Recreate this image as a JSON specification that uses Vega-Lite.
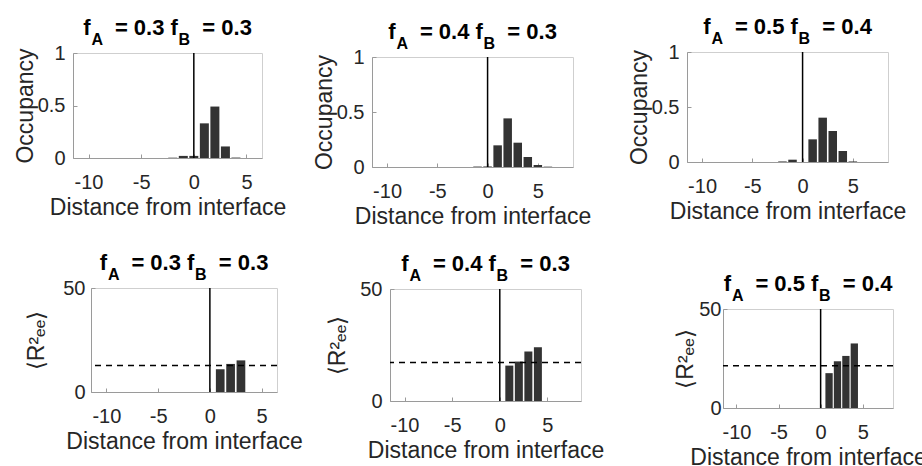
{
  "$schema": "https://vega.github.io/schema/vega-lite/v6.json",
  "padding": {"left": 12, "top": 13, "right": 0, "bottom": 0},
  "background": "white",
  "config": {
    "font": "Liberation Sans",
    "view": {"stroke": "#cfcfcf", "strokeWidth": 1},
    "axis": {
      "grid": false,
      "labelFont": "Liberation Sans",
      "titleFont": "Liberation Sans",
      "labelFontSize": 20,
      "titleFontSize": 23,
      "titleFontWeight": "normal",
      "labelColor": "#262626",
      "titleColor": "#262626",
      "domainColor": "#9a9a9a",
      "tickColor": "#9a9a9a",
      "tickSize": -4,
      "labelExpr": "datum.value + ''"
    },
    "axisX": {"labelPadding": 18, "titlePadding": 4},
    "title": {
      "font": "Liberation Sans",
      "fontSize": 22,
      "fontWeight": "bold",
      "color": "#000000",
      "subtitleFont": "Liberation Sans",
      "subtitleFontSize": 16,
      "subtitleFontWeight": "bold",
      "subtitleColor": "#000000",
      "subtitlePadding": -8,
      "frame": "group",
      "anchor": "middle",
      "offset": -6
    }
  },
  "datasets": {
    "occ1": [
      {"distance": -2, "occupancy": 0.003},
      {"distance": -1, "occupancy": 0.02},
      {"distance": 0, "occupancy": 0.02},
      {"distance": 1, "occupancy": 0.33},
      {"distance": 2, "occupancy": 0.49},
      {"distance": 3, "occupancy": 0.11},
      {"distance": 4, "occupancy": 0.004}
    ],
    "occ2": [
      {"distance": -1, "occupancy": 0.004},
      {"distance": 0, "occupancy": 0.005},
      {"distance": 1, "occupancy": 0.197},
      {"distance": 2, "occupancy": 0.442},
      {"distance": 3, "occupancy": 0.221},
      {"distance": 4, "occupancy": 0.091},
      {"distance": 5, "occupancy": 0.018},
      {"distance": 6, "occupancy": 0.003}
    ],
    "occ3": [
      {"distance": -2, "occupancy": 0.005},
      {"distance": -1, "occupancy": 0.021},
      {"distance": 1, "occupancy": 0.206},
      {"distance": 2, "occupancy": 0.403},
      {"distance": 3, "occupancy": 0.282},
      {"distance": 4, "occupancy": 0.1},
      {"distance": 5, "occupancy": 0.005}
    ],
    "ree1": [
      {"distance": 1, "ree": 10.9},
      {"distance": 2, "ree": 13.5},
      {"distance": 3, "ree": 15.2}
    ],
    "ree2": [
      {"distance": 1, "ree": 15.8},
      {"distance": 2, "ree": 17.6},
      {"distance": 3, "ree": 22.1},
      {"distance": 4, "ree": 24.0}
    ],
    "ree3": [
      {"distance": 1, "ree": 17.6},
      {"distance": 2, "ree": 23.6},
      {"distance": 3, "ree": 26.3},
      {"distance": 4, "ree": 32.6}
    ],
    "lines": [
      {"panel": "occ1", "interface": 0},
      {"panel": "occ2", "interface": 0},
      {"panel": "occ3", "interface": 0},
      {"panel": "ree1", "interface": 0, "bulk": 12.7},
      {"panel": "ree2", "interface": 0, "bulk": 17.2},
      {"panel": "ree3", "interface": 0, "bulk": 21.4}
    ]
  },
  "spacing": 20,
  "vconcat": [
    {
      "spacing": 0,
      "hconcat": [
        {"width": 1, "height": 1, "data": {"values": []}, "mark": "point", "view": {"stroke": null}},
        {
          "spacing": 0,
          "vconcat": [
            {"width": 1, "height": 3, "data": {"values": []}, "mark": "point", "view": {"stroke": null}},
            {
              "width": 189, "height": 105,
              "title": {"text": "f\u00a0\u00a0\u00a0\u00a0= 0.3 f\u00a0\u00a0\u00a0\u00a0= 0.3", "subtitle": "A\u00a0\u00a0\u00a0\u00a0\u00a0\u00a0\u00a0\u00a0\u00a0\u00a0\u00a0\u00a0\u00a0\u00a0\u00a0\u00a0\u00a0B\u00a0\u00a0\u00a0\u00a0\u00a0\u00a0\u00a0\u00a0\u00a0\u00a0\u00a0\u00a0\u200b"},
              "layer": [
                {
                  "data": {"name": "occ1"},
                  "mark": {"type": "bar", "width": 9, "color": "#333333"},
                  "encoding": {
                    "x": {"field": "distance", "type": "quantitative", "title": "Distance from interface", "scale": {"domain": [-11, 6], "nice": false, "zero": false}, "axis": {"values": [-10, -5, 0, 5]}},
                    "y": {"field": "occupancy", "type": "quantitative", "title": "Occupancy", "scale": {"domain": [0, 1], "nice": false}, "axis": {"values": [0, 0.5, 1], "labelPadding": 12, "titlePadding": 0}}
                  }
                },
                {
                  "data": {"name": "lines"},
                  "transform": [{"filter": "datum.panel == 'occ1'"}],
                  "mark": {"type": "rule", "color": "#000000", "strokeWidth": 1.5},
                  "encoding": {"x": {"field": "interface", "type": "quantitative"}}
                }
              ]
            }
          ]
        },
        {"width": 25, "height": 1, "data": {"values": []}, "mark": "point", "view": {"stroke": null}},
        {
          "spacing": 0,
          "vconcat": [
            {"width": 1, "height": 7, "data": {"values": []}, "mark": "point", "view": {"stroke": null}},
            {
              "width": 201, "height": 110,
              "title": {"text": "f\u00a0\u00a0\u00a0\u00a0= 0.4 f\u00a0\u00a0\u00a0\u00a0= 0.3", "subtitle": "A\u00a0\u00a0\u00a0\u00a0\u00a0\u00a0\u00a0\u00a0\u00a0\u00a0\u00a0\u00a0\u00a0\u00a0\u00a0\u00a0\u00a0B\u00a0\u00a0\u00a0\u00a0\u00a0\u00a0\u00a0\u00a0\u00a0\u00a0\u00a0\u00a0\u200b"},
              "layer": [
                {
                  "data": {"name": "occ2"},
                  "mark": {"type": "bar", "width": 8.5, "color": "#333333"},
                  "encoding": {
                    "x": {"field": "distance", "type": "quantitative", "title": "Distance from interface", "scale": {"domain": [-11, 8], "nice": false, "zero": false}, "axis": {"values": [-10, -5, 0, 5]}},
                    "y": {"field": "occupancy", "type": "quantitative", "title": "Occupancy", "scale": {"domain": [0, 1], "nice": false}, "axis": {"values": [0, 0.5, 1], "labelPadding": 12, "titlePadding": 0}}
                  }
                },
                {
                  "data": {"name": "lines"},
                  "transform": [{"filter": "datum.panel == 'occ2'"}],
                  "mark": {"type": "rule", "color": "#000000", "strokeWidth": 1.5},
                  "encoding": {"x": {"field": "interface", "type": "quantitative"}}
                }
              ]
            }
          ]
        },
        {"width": 35, "height": 1, "data": {"values": []}, "mark": "point", "view": {"stroke": null}},
        {
          "spacing": 0,
          "vconcat": [
            {"width": 1, "height": 2, "data": {"values": []}, "mark": "point", "view": {"stroke": null}},
            {
              "width": 201, "height": 110,
              "title": {"text": "f\u00a0\u00a0\u00a0\u00a0= 0.5 f\u00a0\u00a0\u00a0\u00a0= 0.4", "subtitle": "A\u00a0\u00a0\u00a0\u00a0\u00a0\u00a0\u00a0\u00a0\u00a0\u00a0\u00a0\u00a0\u00a0\u00a0\u00a0\u00a0\u00a0B\u00a0\u00a0\u00a0\u00a0\u00a0\u00a0\u00a0\u00a0\u00a0\u00a0\u00a0\u00a0\u200b"},
              "layer": [
                {
                  "data": {"name": "occ3"},
                  "mark": {"type": "bar", "width": 8.5, "color": "#333333"},
                  "encoding": {
                    "x": {"field": "distance", "type": "quantitative", "title": "Distance from interface", "scale": {"domain": [-11, 8], "nice": false, "zero": false}, "axis": {"values": [-10, -5, 0, 5]}},
                    "y": {"field": "occupancy", "type": "quantitative", "title": "Occupancy", "scale": {"domain": [0, 1], "nice": false}, "axis": {"values": [0, 0.5, 1], "labelPadding": 12, "titlePadding": 0}}
                  }
                },
                {
                  "data": {"name": "lines"},
                  "transform": [{"filter": "datum.panel == 'occ3'"}],
                  "mark": {"type": "rule", "color": "#000000", "strokeWidth": 1.5},
                  "encoding": {"x": {"field": "interface", "type": "quantitative"}}
                }
              ]
            }
          ]
        }
      ]
    },
    {
      "spacing": 0,
      "hconcat": [
        {"width": 13, "height": 1, "data": {"values": []}, "mark": "point", "view": {"stroke": null}},
        {
          "spacing": 0,
          "vconcat": [
            {"width": 1, "height": 2, "data": {"values": []}, "mark": "point", "view": {"stroke": null}},
            {
              "width": 186, "height": 104,
              "title": {"text": "f\u00a0\u00a0\u00a0\u00a0= 0.3 f\u00a0\u00a0\u00a0\u00a0= 0.3", "subtitle": "A\u00a0\u00a0\u00a0\u00a0\u00a0\u00a0\u00a0\u00a0\u00a0\u00a0\u00a0\u00a0\u00a0\u00a0\u00a0\u00a0\u00a0B\u00a0\u00a0\u00a0\u00a0\u00a0\u00a0\u00a0\u00a0\u00a0\u00a0\u00a0\u00a0\u200b"},
              "layer": [
                {
                  "data": {"name": "ree1"},
                  "mark": {"type": "bar", "width": 8.7, "color": "#333333"},
                  "encoding": {
                    "x": {"field": "distance", "type": "quantitative", "title": "Distance from interface", "scale": {"domain": [-11, 6], "nice": false, "zero": false}, "axis": {"values": [-10, -5, 0, 5]}},
                    "y": {"field": "ree", "type": "quantitative", "title": "⟨R²ₑₑ⟩", "scale": {"domain": [0, 50], "nice": false}, "axis": {"values": [0, 50], "labelPadding": 10, "titlePadding": 14}}
                  }
                },
                {
                  "data": {"name": "lines"},
                  "transform": [{"filter": "datum.panel == 'ree1'"}],
                  "mark": {"type": "rule", "color": "#000000", "strokeWidth": 1.5},
                  "encoding": {"x": {"field": "interface", "type": "quantitative"}}
                },
                {
                  "data": {"name": "lines"},
                  "transform": [{"filter": "datum.panel == 'ree1'"}],
                  "mark": {"type": "rule", "color": "#000000", "strokeWidth": 1.5, "strokeDash": [6, 5]},
                  "encoding": {"y": {"field": "bulk", "type": "quantitative"}}
                }
              ]
            }
          ]
        },
        {"width": 23, "height": 1, "data": {"values": []}, "mark": "point", "view": {"stroke": null}},
        {
          "spacing": 0,
          "vconcat": [
            {"width": 1, "height": 3, "data": {"values": []}, "mark": "point", "view": {"stroke": null}},
            {
              "width": 191, "height": 112,
              "title": {"text": "f\u00a0\u00a0\u00a0\u00a0= 0.4 f\u00a0\u00a0\u00a0\u00a0= 0.3", "subtitle": "A\u00a0\u00a0\u00a0\u00a0\u00a0\u00a0\u00a0\u00a0\u00a0\u00a0\u00a0\u00a0\u00a0\u00a0\u00a0\u00a0\u00a0B\u00a0\u00a0\u00a0\u00a0\u00a0\u00a0\u00a0\u00a0\u00a0\u00a0\u00a0\u00a0\u200b"},
              "layer": [
                {
                  "data": {"name": "ree2"},
                  "mark": {"type": "bar", "width": 8, "color": "#333333"},
                  "encoding": {
                    "x": {"field": "distance", "type": "quantitative", "title": "Distance from interface", "scale": {"domain": [-11, 8], "nice": false, "zero": false}, "axis": {"values": [-10, -5, 0, 5]}},
                    "y": {"field": "ree", "type": "quantitative", "title": "⟨R²ₑₑ⟩", "scale": {"domain": [0, 50], "nice": false}, "axis": {"values": [0, 50], "labelPadding": 12, "titlePadding": 10}}
                  }
                },
                {
                  "data": {"name": "lines"},
                  "transform": [{"filter": "datum.panel == 'ree2'"}],
                  "mark": {"type": "rule", "color": "#000000", "strokeWidth": 1.5},
                  "encoding": {"x": {"field": "interface", "type": "quantitative"}}
                },
                {
                  "data": {"name": "lines"},
                  "transform": [{"filter": "datum.panel == 'ree2'"}],
                  "mark": {"type": "rule", "color": "#000000", "strokeWidth": 1.5, "strokeDash": [6, 5]},
                  "encoding": {"y": {"field": "bulk", "type": "quantitative"}}
                }
              ]
            }
          ]
        },
        {"width": 69, "height": 1, "data": {"values": []}, "mark": "point", "view": {"stroke": null}},
        {
          "spacing": 0,
          "vconcat": [
            {"width": 1, "height": 23, "data": {"values": []}, "mark": "point", "view": {"stroke": null}},
            {
              "width": 170, "height": 99,
              "title": {"text": "f\u00a0\u00a0\u00a0\u00a0= 0.5 f\u00a0\u00a0\u00a0\u00a0= 0.4", "subtitle": "A\u00a0\u00a0\u00a0\u00a0\u00a0\u00a0\u00a0\u00a0\u00a0\u00a0\u00a0\u00a0\u00a0\u00a0\u00a0\u00a0\u00a0B\u00a0\u00a0\u00a0\u00a0\u00a0\u00a0\u00a0\u00a0\u00a0\u00a0\u00a0\u00a0\u200b"},
              "layer": [
                {
                  "data": {"name": "ree3"},
                  "mark": {"type": "bar", "width": 7.3, "color": "#333333"},
                  "encoding": {
                    "x": {"field": "distance", "type": "quantitative", "title": "Distance from interface", "scale": {"domain": [-11, 8], "nice": false, "zero": false}, "axis": {"values": [-10, -5, 0, 5]}},
                    "y": {"field": "ree", "type": "quantitative", "title": "⟨R²ₑₑ⟩", "scale": {"domain": [0, 50], "nice": false}, "axis": {"values": [0, 50], "labelPadding": 6, "titlePadding": 1}}
                  }
                },
                {
                  "data": {"name": "lines"},
                  "transform": [{"filter": "datum.panel == 'ree3'"}],
                  "mark": {"type": "rule", "color": "#000000", "strokeWidth": 1.5},
                  "encoding": {"x": {"field": "interface", "type": "quantitative"}}
                },
                {
                  "data": {"name": "lines"},
                  "transform": [{"filter": "datum.panel == 'ree3'"}],
                  "mark": {"type": "rule", "color": "#000000", "strokeWidth": 1.5, "strokeDash": [6, 5]},
                  "encoding": {"y": {"field": "bulk", "type": "quantitative"}}
                }
              ]
            }
          ]
        }
      ]
    }
  ]
}
